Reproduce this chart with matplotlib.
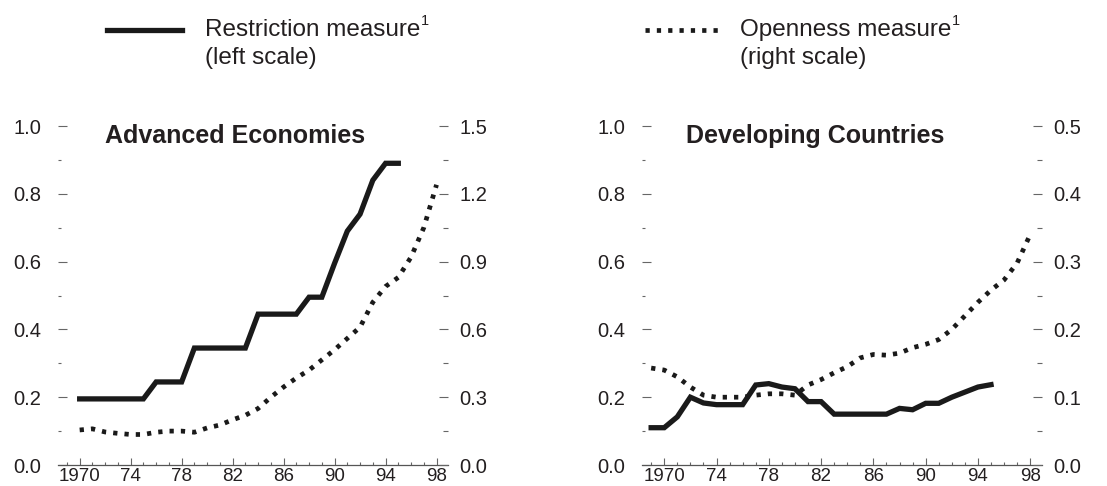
import matplotlib
matplotlib.use("Agg")
import matplotlib.pyplot as plt
from matplotlib.lines import Line2D
from matplotlib.ticker import MultipleLocator, FixedLocator

plt.rcParams['font.family'] = ['Liberation Sans', 'DejaVu Sans']

# ---------------- data ----------------
adv_years = list(range(1970, 1996))
adv_restriction = [0.195, 0.195, 0.195, 0.195, 0.195, 0.195, 0.245, 0.245, 0.245,
                   0.345, 0.345, 0.345, 0.345, 0.345, 0.445, 0.445, 0.445, 0.445,
                   0.495, 0.495, 0.595, 0.69, 0.74, 0.84, 0.89, 0.89]
adv_open_years = list(range(1970, 1999))
adv_openness = [0.155, 0.16, 0.146, 0.14, 0.135, 0.135, 0.145, 0.15, 0.15, 0.145,
                0.164, 0.177, 0.2, 0.22, 0.25, 0.30, 0.345, 0.385, 0.42, 0.465,
                0.51, 0.56, 0.61, 0.72, 0.79, 0.83, 0.92, 1.05, 1.24]

dev_years = list(range(1969, 1996))
dev_restriction = [0.11, 0.11, 0.142, 0.2, 0.183, 0.178, 0.178, 0.178, 0.236, 0.24,
                   0.23, 0.225, 0.187, 0.187, 0.15, 0.15, 0.15, 0.15, 0.15, 0.167,
                   0.163, 0.182, 0.182, 0.2, 0.215, 0.23, 0.237]
dev_open_years = list(range(1969, 1999))
dev_openness = [0.143, 0.14, 0.13, 0.115, 0.103, 0.1, 0.1, 0.1, 0.103, 0.105,
                0.105, 0.103, 0.118, 0.126, 0.136, 0.145, 0.158, 0.163, 0.162, 0.165,
                0.173, 0.178, 0.185, 0.2, 0.22, 0.24, 0.258, 0.273, 0.298, 0.34]

x_ticks = [1970, 1974, 1978, 1982, 1986, 1990, 1994, 1998]
x_labels = ["1970", "74", "78", "82", "86", "90", "94", "98"]
left_ticks = [0.0, 0.2, 0.4, 0.6, 0.8, 1.0]
adv_right_ticks = [0.0, 0.3, 0.6, 0.9, 1.2, 1.5]
dev_right_ticks = [0.0, 0.1, 0.2, 0.3, 0.4, 0.5]

panels = [
    ("Advanced Economies", adv_years, adv_restriction, adv_open_years, adv_openness,
     adv_right_ticks, [58, 448], 105),
    ("Developing Countries", dev_years, dev_restriction, dev_open_years, dev_openness,
     dev_right_ticks, [642, 1042], 686),
]

W, H = 1107, 486
fig = plt.figure(figsize=(W / 100, H / 100), dpi=100)

TXT = '#231f20'
TICKC = '#666666'
SOLID_LW = 3.8
DOT_LW = 3.4
DOT_DASH = (0, (0.9, 1.5))

bottom_px, top_px = 465, 126
for title, yrs, restr, oyrs, openv, rticks, (x0, x1), title_x in panels:
    ax = fig.add_axes([x0 / W, 1 - bottom_px / H, (x1 - x0) / W, (bottom_px - top_px) / H])
    ax2 = ax.twinx()
    ax.set_xlim(1968.3, 1998.9)
    ax.set_ylim(0, 1.0)
    ax2.set_ylim(0, rticks[-1])
    for a in (ax, ax2):
        for s in ('top', 'left', 'right'):
            a.spines[s].set_visible(False)
        a.spines['bottom'].set_color('#555555')
        a.spines['bottom'].set_linewidth(0.9)
        a.patch.set_visible(False)
    ax2.spines['bottom'].set_visible(False)

    ax.plot(yrs, restr, color='#1a1a1a', lw=SOLID_LW, solid_joinstyle='miter', zorder=3)
    ax2.plot(oyrs, openv, color='#1a1a1a', lw=DOT_LW, linestyle=DOT_DASH,
             dash_capstyle='butt', zorder=3)

    ax.set_yticks(left_ticks)
    ax.set_yticklabels([f"{v:.1f}" for v in left_ticks])
    ax.yaxis.set_minor_locator(MultipleLocator(0.1))
    ax.tick_params(axis='y', which='major', direction='in', length=6.5, width=0.8,
                   color=TICKC, pad=12, labelsize=14.5, labelcolor=TXT)
    ax.tick_params(axis='y', which='minor', direction='in', length=2.5, width=0.8,
                   color=TICKC)

    ax2.set_yticks(rticks)
    ax2.set_yticklabels([f"{v:.1f}" for v in rticks])
    ax2.yaxis.set_minor_locator(FixedLocator([(rticks[i] + rticks[i + 1]) / 2
                                              for i in range(len(rticks) - 1)]))
    ax2.tick_params(axis='y', which='major', direction='in', length=6.5, width=0.8,
                    color=TICKC, pad=8, labelsize=14.5, labelcolor=TXT)
    ax2.tick_params(axis='y', which='minor', direction='in', length=3.5, width=0.8,
                    color=TICKC)

    ax.set_xticks(x_ticks)
    ax.set_xticklabels(x_labels)
    ax.xaxis.set_minor_locator(MultipleLocator(1))
    ax.tick_params(axis='x', which='major', direction='in', length=5, width=0.8,
                   color=TICKC, pad=2, labelsize=13.5, labelcolor=TXT)
    ax.tick_params(axis='x', which='minor', direction='in', length=2.5, width=0.8,
                   color=TICKC)

    fig.text(title_x / W, 1 - 136 / H, title, fontsize=18, fontweight='bold',
             color=TXT, ha='left', va='center')

# ---------------- legend ----------------
fig.add_artist(Line2D([107 / W, 182 / W], [1 - 30 / H, 1 - 30 / H], color='#1a1a1a',
                      lw=SOLID_LW))
fig.add_artist(Line2D([645 / W, 720 / W], [1 - 30 / H, 1 - 30 / H], color='#1a1a1a',
                      lw=DOT_LW, linestyle=DOT_DASH, dash_capstyle='butt'))
for x, lab, sub in [(205, "Restriction measure", "(left scale)"),
                    (740, "Openness measure", "(right scale)")]:
    t = fig.text(x / W, 1 - 30 / H, lab, fontsize=17.5, color=TXT, ha='left', va='center')
    fig.text(x / W, 1 - 58 / H, sub, fontsize=17.5, color=TXT, ha='left', va='center')
    fig.add_artist(plt.Annotation("1", xy=(1, 0.6), xycoords=t, xytext=(0.5, 0),
                                  textcoords='offset points', fontsize=10.5, color=TXT,
                                  ha='left', va='bottom'))

fig.savefig("out.png", dpi=100)
